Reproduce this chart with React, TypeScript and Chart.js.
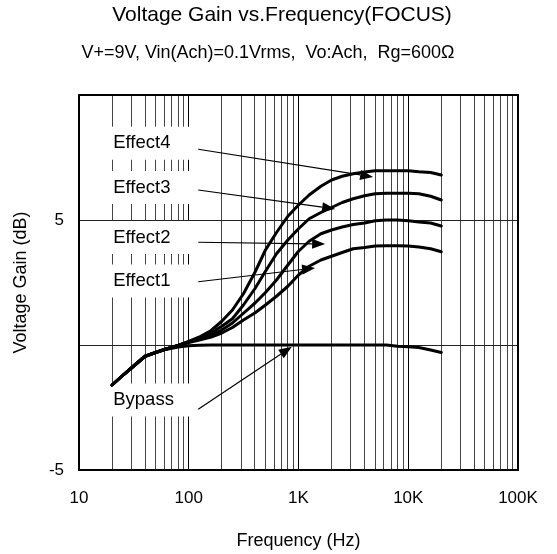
import React, { useEffect, useRef } from "react";
import { Chart, registerables } from "chart.js";

Chart.register(...registerables);

const FONT = '"Liberation Sans", Arial, Helvetica, sans-serif';

const TITLE = "Voltage Gain vs.Frequency(FOCUS)";
const SUBTITLE = "V+=9V, Vin(Ach)=0.1Vrms,  Vo:Ach,  Rg=600Ω";
const X_TITLE = "Frequency (Hz)";
const Y_TITLE = "Voltage Gain (dB)";

// Frequencies (Hz)
const freqs = [20, 25, 30, 40, 50, 60, 80, 100, 125, 160, 200, 250, 315, 400, 500, 630, 800, 1000, 1250, 1600, 2000, 2500, 3150, 4000, 5000, 6300, 8000, 10000, 12500, 16000, 20000];

// Voltage gain (dB)
const bypass = [-1.6, -1.22, -0.92, -0.45, -0.3, -0.19, -0.08, -0.03, -0.01, 0, 0, 0, 0, 0, 0, 0, 0, 0, 0, 0, 0, 0, 0, 0, 0, 0, -0.05, -0.07, -0.1, -0.2, -0.3];
const effect1 = [-1.6, -1.22, -0.92, -0.45, -0.3, -0.18, -0.02, 0.1, 0.2, 0.32, 0.48, 0.7, 1.0, 1.28, 1.6, 1.95, 2.35, 2.8, 3.15, 3.4, 3.55, 3.7, 3.85, 3.9, 3.96, 3.97, 3.97, 3.96, 3.92, 3.85, 3.73];
const effect2 = [-1.6, -1.22, -0.92, -0.45, -0.3, -0.18, -0.02, 0.12, 0.25, 0.4, 0.6, 0.88, 1.27, 1.67, 2.1, 2.6, 3.2, 3.75, 4.15, 4.45, 4.6, 4.72, 4.82, 4.88, 4.97, 5.0, 5.0, 4.97, 4.92, 4.88, 4.76];
const effect3 = [-1.6, -1.22, -0.92, -0.45, -0.3, -0.18, -0.02, 0.13, 0.28, 0.48, 0.75, 1.05, 1.6, 2.25, 2.95, 3.65, 4.2, 4.65, 5.05, 5.3, 5.5, 5.7, 5.85, 5.97, 6.05, 6.07, 6.07, 6.07, 6.05, 5.95, 5.8];
const effect4 = [-1.6, -1.22, -0.92, -0.45, -0.3, -0.18, -0.02, 0.14, 0.32, 0.58, 0.95, 1.4, 2.05, 2.9, 3.8, 4.5, 5.15, 5.6, 6.0, 6.35, 6.6, 6.75, 6.85, 6.92, 6.97, 6.97, 6.97, 6.97, 6.93, 6.9, 6.8];

const seriesNames = ["Bypass", "Effect1", "Effect2", "Effect3", "Effect4"];
const seriesValues = [bypass, effect1, effect2, effect3, effect4];

// Axis ticks
const xDecades = [10, 100, 1000, 10000, 100000];
const xDecadeLabels = ["10", "100", "1K", "10K", "100K"];
const yTicks = [-5, 0, 5, 10];
const yTickLabels = ["-5", "", "5", ""];

// Callout labels (data coordinates)
const calloutNames = ["Effect4", "Effect3", "Effect2", "Effect1", "Bypass"];
const calloutTextFreq = [20.5, 20.5, 20.5, 20.5, 20.5];
const calloutTextDb = [8.07, 6.3, 4.3, 2.56, -2.2];
const calloutBoxFreq = [16.9, 126.8];
const calloutBoxHalfDb = 0.66;
const arrowFromFreq = [122, 122, 122, 122, 122];
const arrowFromDb = [7.83, 6.2, 4.11, 2.53, -2.57];
const arrowToFreq = [4786, 2156, 1748, 1417, 869];
const arrowToDb = [6.72, 5.44, 4.04, 3.08, -0.07];

const xGridValues: number[] = [];
for (let d = 0; d < xDecades.length - 1; d++) {
  for (let m = 1; m < 10; m++) xGridValues.push(xDecades[d] * m);
}
xGridValues.push(xDecades[xDecades.length - 1]);

const annotatePlugin = {
  id: "annotate",
  beforeDraw(chart: any) {
    const { ctx, width, height } = chart;
    ctx.save();
    ctx.fillStyle = "#fff";
    ctx.fillRect(0, 0, width, height);
    ctx.fillStyle = "#000";
    ctx.textAlign = "center";
    ctx.textBaseline = "middle";
    ctx.font = `21px ${FONT}`;
    ctx.fillText(TITLE, 282, 15);
    ctx.font = `18px ${FONT}`;
    ctx.fillText(SUBTITLE, 268, 53.5);
    ctx.restore();
  },
  beforeDatasetsDraw(chart: any) {
    const { ctx } = chart;
    const x = chart.scales.x;
    const y = chart.scales.y;
    ctx.save();
    ctx.fillStyle = "#fff";
    const x0 = x.getPixelForValue(calloutBoxFreq[0]);
    const x1 = x.getPixelForValue(calloutBoxFreq[1]);
    for (let i = 0; i < calloutNames.length; i++) {
      const yTop = y.getPixelForValue(calloutTextDb[i] + calloutBoxHalfDb);
      const yBot = y.getPixelForValue(calloutTextDb[i] - calloutBoxHalfDb);
      ctx.fillRect(x0, yTop, x1 - x0, yBot - yTop);
    }
    ctx.restore();
  },
  afterDatasetsDraw(chart: any) {
    const { ctx, chartArea } = chart;
    const x = chart.scales.x;
    const y = chart.scales.y;
    ctx.save();
    // callout texts
    ctx.fillStyle = "#000";
    ctx.font = `18.5px ${FONT}`;
    ctx.textAlign = "left";
    ctx.textBaseline = "middle";
    for (let i = 0; i < calloutNames.length; i++) {
      ctx.fillText(calloutNames[i], x.getPixelForValue(calloutTextFreq[i]), y.getPixelForValue(calloutTextDb[i]));
    }
    // arrows
    ctx.strokeStyle = "#000";
    ctx.lineWidth = 1.2;
    for (let i = 0; i < calloutNames.length; i++) {
      const sx = x.getPixelForValue(arrowFromFreq[i]);
      const sy = y.getPixelForValue(arrowFromDb[i]);
      const tx = x.getPixelForValue(arrowToFreq[i]);
      const ty = y.getPixelForValue(arrowToDb[i]);
      const ang = Math.atan2(ty - sy, tx - sx);
      const L = 13;
      const W = 5;
      const bx = tx - L * Math.cos(ang);
      const by = ty - L * Math.sin(ang);
      ctx.beginPath();
      ctx.moveTo(sx, sy);
      ctx.lineTo(bx, by);
      ctx.stroke();
      ctx.beginPath();
      ctx.moveTo(tx, ty);
      ctx.lineTo(bx + W * Math.sin(ang), by - W * Math.cos(ang));
      ctx.lineTo(bx - W * Math.sin(ang), by + W * Math.cos(ang));
      ctx.closePath();
      ctx.fill();
    }
    // frame
    ctx.lineWidth = 2;
    ctx.strokeRect(chartArea.left, chartArea.top, chartArea.right - chartArea.left, chartArea.bottom - chartArea.top);
    ctx.restore();
  },
};

export default function App() {
  const canvasRef = useRef<HTMLCanvasElement | null>(null);

  useEffect(() => {
    const canvas = canvasRef.current;
    if (!canvas) return;
    const datasets = seriesNames.map((name, si) => ({
      label: name,
      data: freqs.map((f, i) => ({ x: f, y: seriesValues[si][i] })),
      borderColor: "#000",
      backgroundColor: "#000",
      borderWidth: 3,
      pointRadius: 0,
      tension: 0,
      fill: false,
      borderJoinStyle: "round" as const,
      borderCapStyle: "round" as const,
    }));

    const chart = new Chart(canvas, {
      type: "line",
      data: { datasets },
      options: {
        responsive: false,
        animation: false,
        layout: { padding: { top: 95, right: 39, left: 0, bottom: 0 } },
        plugins: {
          legend: { display: false },
          tooltip: { enabled: false },
          title: { display: false },
        },
        scales: {
          x: {
            type: "logarithmic",
            min: 10,
            max: 100000,
            afterBuildTicks: (s: any) => {
              s.ticks = xGridValues.map((v) => ({ value: v }));
            },
            afterFit: (s: any) => {
              s.height = 84;
            },
            ticks: {
              autoSkip: false,
              maxRotation: 0,
              minRotation: 0,
              padding: 18,
              color: "#000",
              font: { family: FONT, size: 17 },
              callback: (v: any) => {
                const idx = xDecades.indexOf(Number(v));
                return idx >= 0 ? xDecadeLabels[idx] : "";
              },
            },
            grid: {
              drawTicks: false,
              lineWidth: 1,
              color: (c: any) => {
                const v = c.tick ? c.tick.value : 0;
                return xDecades.indexOf(v) >= 0 ? "#000" : "#444";
              },
            },
            border: { display: false },
            title: {
              display: true,
              text: X_TITLE,
              color: "#000",
              font: { family: FONT, size: 18 },
              padding: { top: 0, bottom: 2 },
            },
          },
          y: {
            type: "linear",
            min: -5,
            max: 10,
            afterBuildTicks: (s: any) => {
              s.ticks = yTicks.map((v) => ({ value: v }));
            },
            afterFit: (s: any) => {
              s.width = 79;
            },
            ticks: {
              padding: 15,
              color: "#000",
              font: { family: FONT, size: 17 },
              callback: (v: any) => {
                const idx = yTicks.indexOf(Number(v));
                return idx >= 0 ? yTickLabels[idx] : "";
              },
            },
            grid: { drawTicks: false, lineWidth: 1, color: "#222" },
            border: { display: false },
            title: {
              display: true,
              text: Y_TITLE,
              color: "#000",
              font: { family: FONT, size: 18 },
              padding: { top: 10, bottom: 0 },
            },
          },
        },
      },
      plugins: [annotatePlugin],
    });
    return () => chart.destroy();
  }, []);

  return (
    <div style={{ position: "absolute", left: 0, top: 0, width: 557, height: 554, background: "#fff" }}>
      <canvas ref={canvasRef} width={557} height={554} style={{ display: "block", width: 557, height: 554 }} />
    </div>
  );
}
